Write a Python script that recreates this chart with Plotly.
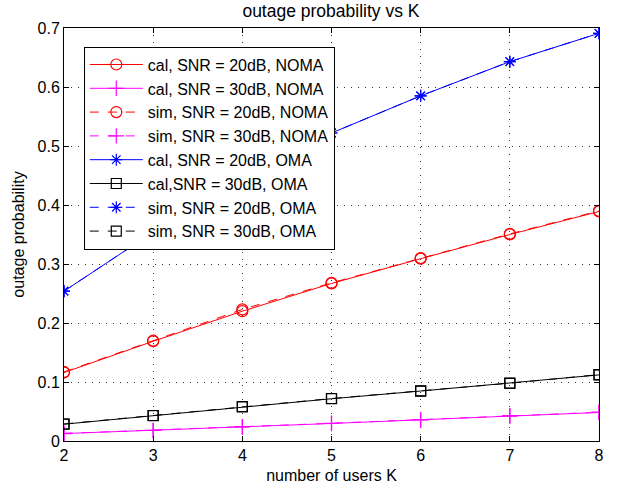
import plotly.graph_objects as go

K = [2, 3, 4, 5, 6, 7, 8]

cal_noma_20 = [0.116, 0.169, 0.220, 0.267, 0.309, 0.350, 0.389]
cal_noma_30 = [0.0126, 0.0178, 0.0240, 0.0297, 0.0358, 0.0425, 0.0484]
sim_noma_20 = [0.117, 0.170, 0.223, 0.268, 0.310, 0.351, 0.390]
sim_noma_30 = [0.0128, 0.0180, 0.0243, 0.0300, 0.0360, 0.0428, 0.0487]
cal_oma_20 = [0.254, 0.354, 0.445, 0.522, 0.585, 0.643, 0.691]
cal_oma_30 = [0.0285, 0.0430, 0.0580, 0.0716, 0.0847, 0.0978, 0.112]
sim_oma_20 = [0.254, 0.354, 0.445, 0.522, 0.585, 0.643, 0.691]
sim_oma_30 = [0.0288, 0.0432, 0.0585, 0.0720, 0.0850, 0.0980, 0.1125]

names = [
    "cal, SNR = 20dB, NOMA",
    "cal, SNR = 30dB, NOMA",
    "sim, SNR = 20dB, NOMA",
    "sim, SNR = 30dB, NOMA",
    "cal, SNR = 20dB, OMA",
    "cal,SNR = 30dB, OMA",
    "sim, SNR = 20dB, OMA",
    "sim, SNR = 30dB, OMA",
]
series = [cal_noma_20, cal_noma_30, sim_noma_20, sim_noma_30,
          cal_oma_20, cal_oma_30, sim_oma_20, sim_oma_30]
colors = ["#FF0000", "#FF00FF", "#FF0000", "#FF00FF",
          "#0000FF", "#000000", "#0000FF", "#000000"]
symbols = ["circle-open", "cross-thin-open", "circle-open", "cross-thin-open",
           "asterisk-open", "square-open", "asterisk-open", "square-open"]
dashes = ["solid", "solid", "dash", "dash", "solid", "solid", "dash", "dash"]
sizes = [11, 11, 11, 11, 10, 10, 10, 10]

fig = go.Figure()
for nm, ys, c, s, d, sz in zip(names, series, colors, symbols, dashes, sizes):
    fig.add_trace(go.Scatter(
        x=K, y=ys, name=nm, mode="lines+markers",
        line=dict(color=c, width=1, dash=d),
        marker=dict(symbol=s, size=sz, color=c, line=dict(color=c, width=1.2)),
    ))

font = "Liberation Sans, Arial, Helvetica, sans-serif"
axis_common = dict(
    showline=True, linecolor="black", linewidth=1, mirror="ticks",
    ticks="inside", ticklen=5, tickcolor="black",
    showgrid=True, gridcolor="#333333", griddash="1px,6px", gridwidth=1,
    zeroline=False, tickfont=dict(size=16, color="black", family=font),
)

fig.update_layout(
    width=623, height=492,
    margin=dict(l=64, r=24, t=28, b=51),
    paper_bgcolor="white", plot_bgcolor="white",
    font=dict(family=font, color="black", size=15),
    title=dict(text="outage probability vs K", x=0.5312, xanchor="center",
               y=0.977, yanchor="middle",
               font=dict(size=17.5, color="black", family=font)),
    xaxis=dict(range=[2, 8], dtick=1, tick0=2,
               title=dict(text="number of users K", font=dict(size=16, family=font), standoff=6),
               **axis_common),
    yaxis=dict(range=[0, 0.7], dtick=0.1, tick0=0,
               title=dict(text="outage probability", font=dict(size=16, family=font), standoff=8),
               **axis_common),
    legend=dict(x=0.037, y=0.955, xanchor="left", yanchor="top",
                bgcolor="white", bordercolor="black", borderwidth=1,
                font=dict(size=16, color="black", family=font),
                itemwidth=53, tracegroupgap=0),
    showlegend=True,
)

fig.write_html("out.html")
